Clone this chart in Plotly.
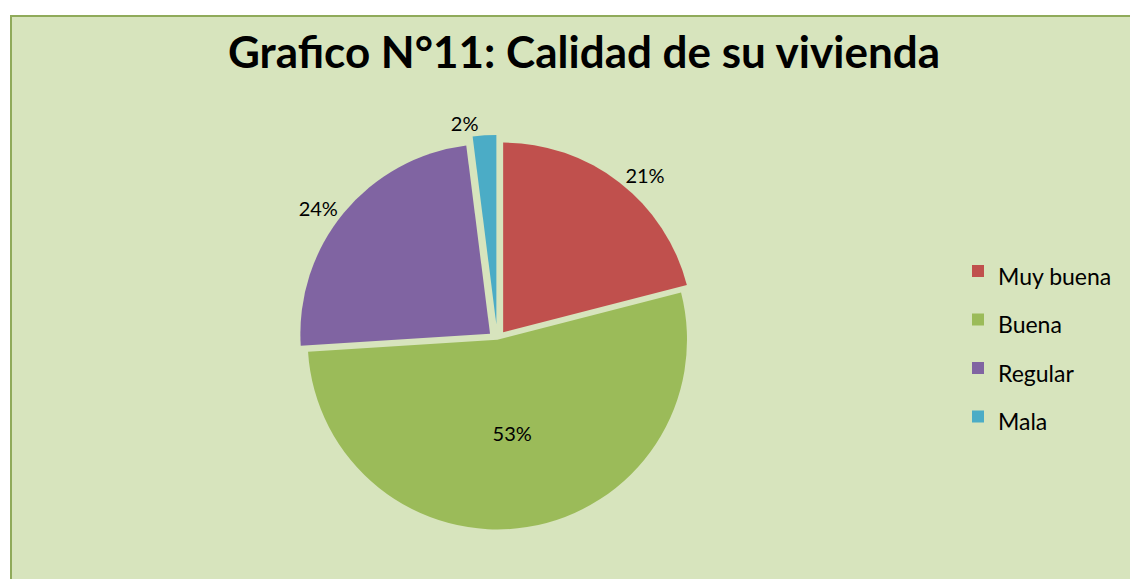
import plotly.graph_objects as go

categories = ["Muy buena", "Buena", "Regular", "Mala"]
values = [21, 53, 24, 2]
colors = ["#C0504D", "#9BBB59", "#8064A2", "#4BACC6"]
text_positions = ["outside", "inside", "outside", "outside"]
pulls = [0.05, 0.0, 0.05, 0.08]

W, H = 1138, 579
FONT = "Lato, Carlito, Calibri, sans-serif"

legend_labels = [f"<span style='font-size:23px'>{c}</span>" for c in categories]

fig = go.Figure()
fig.add_trace(go.Pie(
    labels=legend_labels,
    values=values,
    sort=False,
    direction="clockwise",
    rotation=0,
    pull=pulls,
    marker=dict(colors=colors, line=dict(color="rgba(0,0,0,0)", width=0)),
    textinfo="percent",
    texttemplate="%{percent:.0%}",
    textposition=text_positions,
    textfont=dict(family=FONT, size=20, color="#000000"),
    insidetextorientation="horizontal",
    outsidetextfont=dict(color="#000000"),
    domain=dict(x=[0.25, 0.61], y=[0.05, 0.80]),
    showlegend=True,
))

fig.update_layout(
    width=W, height=H,
    margin=dict(l=0, r=0, t=0, b=0),
    paper_bgcolor="white",
    plot_bgcolor="white",
    title=dict(
        text="<b>Grafico N°11: Calidad de su vivienda</b>",
        x=576 / W, xanchor="center",
        y=1 - 45 / H, yanchor="middle",
        font=dict(family=FONT, size=44, color="#000000"),
    ),
    legend=dict(
        x=950 / W, xanchor="left",
        y=1 - 337 / H, yanchor="middle",
        font=dict(family=FONT, size=35, color="#000000"),
        bgcolor="rgba(0,0,0,0)",
    ),
    shapes=[dict(
        type="rect", xref="paper", yref="paper",
        x0=3 / W, x1=1.01, y0=-0.01, y1=1 - 8 / H,
        fillcolor="#D7E4BD", line=dict(color="#8FAA5A", width=2),
        layer="below",
    )],
)

fig.write_html("out.html")
